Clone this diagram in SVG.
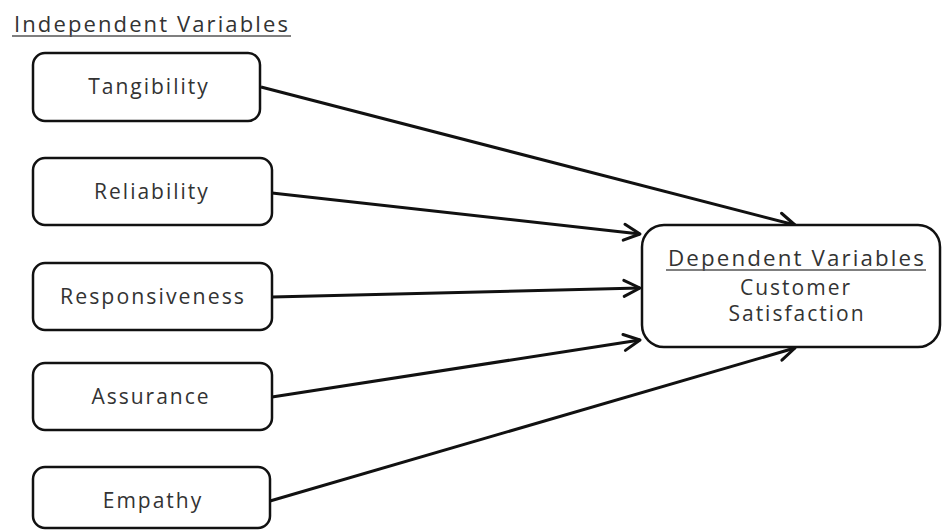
<svg xmlns="http://www.w3.org/2000/svg" width="942" height="530" viewBox="0 0 942 530">
<style>
.box{fill:#fff;stroke:#111;stroke-width:2.5}
.t{font-family:"Open Sans","DejaVu Sans",sans-serif;font-size:21px;fill:#333;text-anchor:middle;letter-spacing:2px}
.c{stroke:#111;stroke-width:3;fill:none}
.u{stroke:#555;stroke-width:1.5}
</style>
<defs>
<marker id="ah" markerUnits="userSpaceOnUse" markerWidth="24" markerHeight="24" refX="20" refY="10" orient="auto" viewBox="0 0 24 20">
<path d="M4,2 L20,10 L4,18" fill="none" stroke="#111" stroke-width="3" stroke-linecap="round" stroke-linejoin="round"/>
</marker>
</defs>
<rect width="942" height="530" fill="#fff"/>
<g id="title">
<text class="t" x="152" y="32" textLength="276" lengthAdjust="spacingAndGlyphs">Independent Variables</text>
<line class="u" x1="12" y1="36" x2="291" y2="36"/>
</g>
<g id="connectors">
<line class="c" x1="261" y1="87" x2="795" y2="225" marker-end="url(#ah)"/>
<line class="c" x1="272" y1="193" x2="640" y2="234" marker-end="url(#ah)"/>
<line class="c" x1="272" y1="297" x2="640" y2="288" marker-end="url(#ah)"/>
<line class="c" x1="272" y1="397" x2="640" y2="340" marker-end="url(#ah)"/>
<line class="c" x1="270" y1="501" x2="795" y2="348" marker-end="url(#ah)"/>
</g>
<g id="tangibility">
<rect class="box" x="33" y="53" width="227" height="68" rx="12"/>
<text class="t" x="149" y="94">Tangibility</text>
</g>
<g id="reliability">
<rect class="box" x="33" y="158" width="239" height="67" rx="12"/>
<text class="t" x="152" y="199">Reliability</text>
</g>
<g id="responsiveness">
<rect class="box" x="33" y="263" width="239" height="67" rx="12"/>
<text class="t" x="153" y="304" textLength="186" lengthAdjust="spacingAndGlyphs">Responsiveness</text>
</g>
<g id="assurance">
<rect class="box" x="33" y="363" width="239" height="67" rx="12"/>
<text class="t" x="151" y="404">Assurance</text>
</g>
<g id="empathy">
<rect class="box" x="33" y="467" width="237" height="61" rx="12"/>
<text class="t" x="153" y="508">Empathy</text>
</g>
<g id="dependent">
<rect class="box" x="642" y="225" width="298" height="122" rx="22"/>
<text class="t" x="797" y="266" textLength="258" lengthAdjust="spacingAndGlyphs">Dependent Variables</text>
<line class="u" x1="666" y1="270" x2="926" y2="270"/>
<text class="t" x="796" y="295">Customer</text>
<text class="t" x="797" y="321">Satisfaction</text>
</g>
</svg>
